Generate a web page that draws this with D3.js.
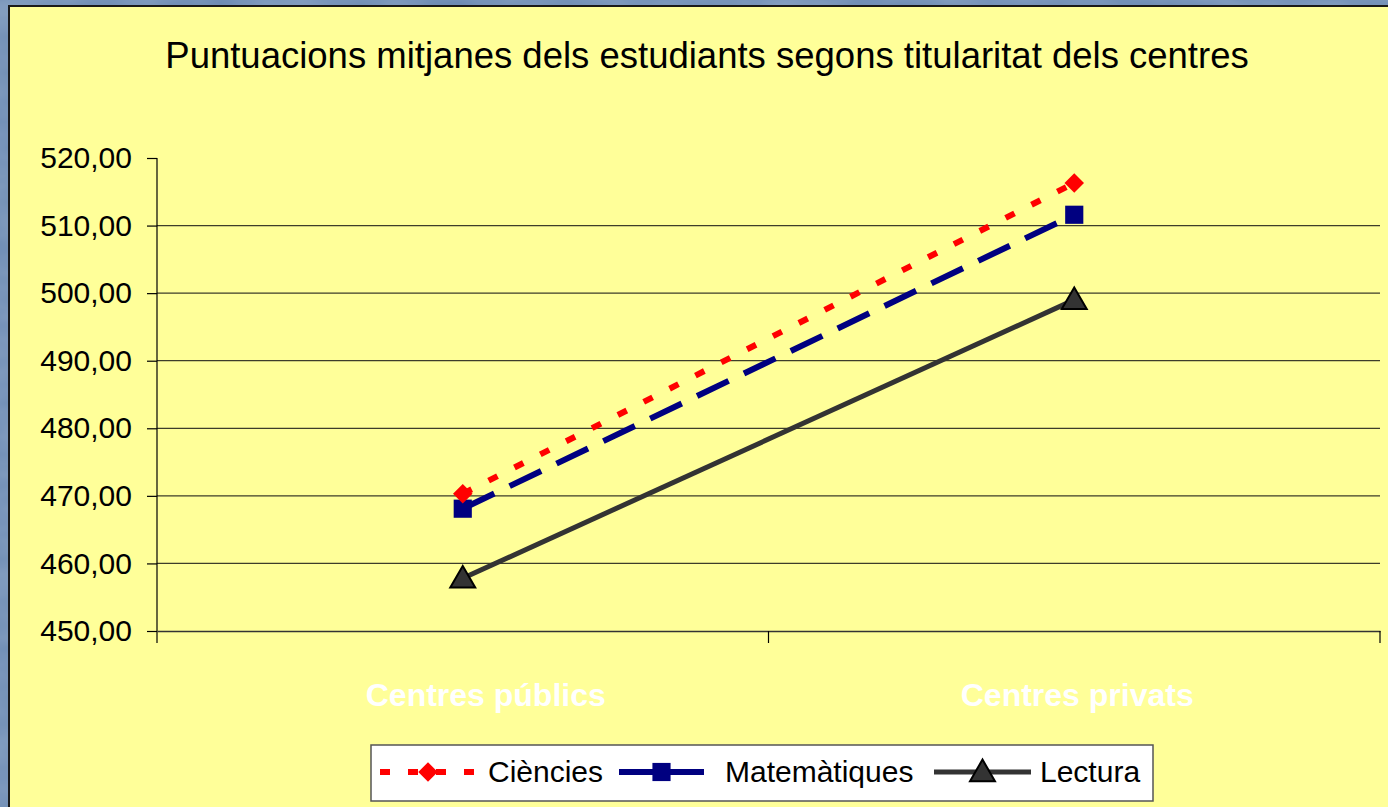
<!DOCTYPE html>
<html>
<head>
<meta charset="utf-8">
<script src="https://cdn.jsdelivr.net/npm/d3@7"></script>
<style>
  body { margin: 0; overflow: hidden; }
  svg { display: block; font-family: Arial, "Liberation Sans", sans-serif; }
</style>
</head>
<body>
<div id="chart"></div>
<script>
// data
const categories = ['Centres públics', 'Centres privats'];
const seriesNames = ['Ciències', 'Matemàtiques', 'Lectura'];
const ciencies = [470.3, 516.3];
const matematiques = [468.1, 511.6];
const lectura = [457.8, 499.0];
const yTicks = [450, 460, 470, 480, 490, 500, 510, 520];

const width = 1388;
const height = 807;
const margin = { top: 158, right: 8, bottom: 176, left: 157 };

const svg = d3.select('#chart')
    .append('svg')
    .attr('width', width)
    .attr('height', height);

// blue marble-ish backdrop
const defs = svg.append('defs');
const filt = defs.append('filter').attr('id', 'marble').attr('x', 0).attr('y', 0).attr('width', '100%').attr('height', '100%');
filt.append('feTurbulence').attr('type', 'fractalNoise').attr('baseFrequency', '0.012 0.03').attr('numOctaves', 3).attr('seed', 4).attr('result', 'n');
filt.append('feColorMatrix').attr('in', 'n').attr('type', 'matrix')
    .attr('values', '0 0 0 0 0.30  0 0 0 0 0.42  0 0 0 0 0.60  0.9 0 0 0 -0.2')
    .attr('result', 'c');
filt.append('feComposite').attr('in', 'c').attr('in2', 'SourceGraphic').attr('operator', 'over');

svg.append('rect').attr('width', width).attr('height', height).attr('fill', '#58779f');
svg.append('rect').attr('width', width).attr('height', height).attr('fill', '#6e8cb4').attr('filter', 'url(#marble)');

// yellow chart area
svg.append('rect')
    .attr('x', 9).attr('y', 6)
    .attr('width', width).attr('height', height)
    .attr('fill', '#ffff99')
    .attr('stroke', '#1a1a1a')
    .attr('stroke-width', 2);

svg.append('text')
    .attr('x', 707).attr('y', 68)
    .attr('text-anchor', 'middle')
    .attr('font-size', 36.5)
    .attr('fill', '#000')
    .text('Puntuacions mitjanes dels estudiants segons titularitat dels centres');

const x = d3.scaleBand()
    .domain(categories)
    .range([margin.left, width - margin.right]);

const y = d3.scaleLinear()
    .domain([450, 520])
    .range([height - margin.bottom, margin.top]);

// gridlines (none drawn at the top value)
svg.append('g')
    .selectAll('line')
    .data(yTicks.slice(1, -1))
    .enter()
    .append('line')
    .attr('x1', margin.left).attr('x2', width - margin.right)
    .attr('y1', d => y(d)).attr('y2', d => y(d))
    .attr('stroke', '#3d3d2a')
    .attr('stroke-width', 1.2);

// y axis
const yAxis = d3.axisLeft(y)
    .tickValues(yTicks)
    .tickSize(10)
    .tickPadding(15)
    .tickFormat(d => d3.format('.2f')(d).replace('.', ','));

const gy = svg.append('g')
    .attr('transform', `translate(${margin.left},0)`)
    .call(yAxis);
gy.select('.domain').remove();
gy.selectAll('.tick line').attr('stroke', '#000').attr('stroke-width', 1.2);
gy.selectAll('.tick text').attr('font-size', 30).attr('fill', '#000').attr('font-family', 'Arial, "Liberation Sans", sans-serif');
svg.append('line')
    .attr('x1', margin.left).attr('x2', margin.left)
    .attr('y1', margin.top).attr('y2', height - margin.bottom + 12)
    .attr('stroke', '#000').attr('stroke-width', 1.2);

// x axis
const xAxis = d3.axisBottom(x).tickSize(0).tickFormat('');
const gx = svg.append('g')
    .attr('transform', `translate(0,${height - margin.bottom})`)
    .call(xAxis);
gx.select('.domain').attr('stroke', '#333').attr('stroke-width', 1.5);
gx.selectAll('.sep')
    .data([x.range()[0] + x.bandwidth(), x.range()[1]])
    .enter()
    .append('line')
    .attr('x1', d => d).attr('x2', d => d)
    .attr('y1', 0).attr('y2', 12)
    .attr('stroke', '#000').attr('stroke-width', 1.2);

svg.append('g')
    .selectAll('text')
    .data(categories)
    .enter()
    .append('text')
    .attr('x', (d, i) => x(d) + x.bandwidth() / 2 + (i === 0 ? 23 : 3))
    .attr('y', 706)
    .attr('text-anchor', 'middle')
    .attr('font-size', 32)
    .attr('font-weight', 'bold')
    .attr('fill', '#ffffff')
    .text(d => d);

const styles = [
    { name: seriesNames[0], values: ciencies, color: '#ff0000', dash: '10,19', width: 6, marker: 'diamond', size: 190, stroke: 'none' },
    { name: seriesNames[1], values: matematiques, color: '#000080', dash: '35,17', width: 6, marker: 'square', size: 330, stroke: 'none' },
    { name: seriesNames[2], values: lectura, color: '#333333', dash: null, width: 5, marker: 'triangle', size: 270, stroke: '#000' }
];

const symbolOf = m => m === 'triangle' ? d3.symbolTriangle : d3.symbolSquare;
const cx = d => x(d) + x.bandwidth() / 2;
const markerTransform = (s, px, py) =>
    `translate(${px},${py + (s.marker === 'triangle' ? 2 : 0)})` + (s.marker === 'diamond' ? ' rotate(45)' : '');

const line = d3.line().x(d => cx(d.cat)).y(d => y(d.v));

styles.slice().reverse().forEach(s => {
    const pts = categories.map((c, i) => ({ cat: c, v: s.values[i] }));
    svg.append('path')
        .datum(pts)
        .attr('d', line)
        .attr('fill', 'none')
        .attr('stroke', s.color)
        .attr('stroke-width', s.width)
        .attr('stroke-dasharray', s.dash);
});

styles.slice().reverse().forEach(s => {
    const pts = categories.map((c, i) => ({ cat: c, v: s.values[i] }));
    svg.append('g')
        .selectAll('path')
        .data(pts)
        .enter()
        .append('path')
        .attr('d', d3.symbol().type(symbolOf(s.marker)).size(s.size))
        .attr('transform', d => markerTransform(s, cx(d.cat), y(d.v)))
        .attr('fill', s.color)
        .attr('stroke', s.stroke)
        .attr('stroke-width', 2);
});

// legend
const legend = svg.append('g');
legend.append('rect')
    .attr('x', 371).attr('y', 745)
    .attr('width', 782).attr('height', 56)
    .attr('fill', '#fff')
    .attr('stroke', '#555')
    .attr('stroke-width', 1.5);

const legendItems = [
    { s: styles[0], x0: 380, x1: 476, tx: 488, dash: '10,18' },
    { s: styles[1], x0: 619, x1: 704, tx: 725, dash: null },
    { s: styles[2], x0: 934, x1: 1031, tx: 1040, dash: null }
];
legendItems.forEach(it => {
    const ly = 772;
    legend.append('line')
        .attr('x1', it.x0).attr('x2', it.x1)
        .attr('y1', ly).attr('y2', ly)
        .attr('stroke', it.s.color)
        .attr('stroke-width', it.s.width)
        .attr('stroke-dasharray', it.dash);
    const mx = (it.x0 + it.x1) / 2;
    legend.append('path')
        .attr('d', d3.symbol().type(symbolOf(it.s.marker)).size(it.s.size))
        .attr('transform', markerTransform(it.s, mx, ly))
        .attr('fill', it.s.color)
        .attr('stroke', it.s.stroke)
        .attr('stroke-width', 2);
    legend.append('text')
        .attr('x', it.tx).attr('y', ly + 10)
        .attr('font-size', 30)
        .attr('fill', '#000')
        .text(it.s.name);
});
</script>
</body>
</html>
